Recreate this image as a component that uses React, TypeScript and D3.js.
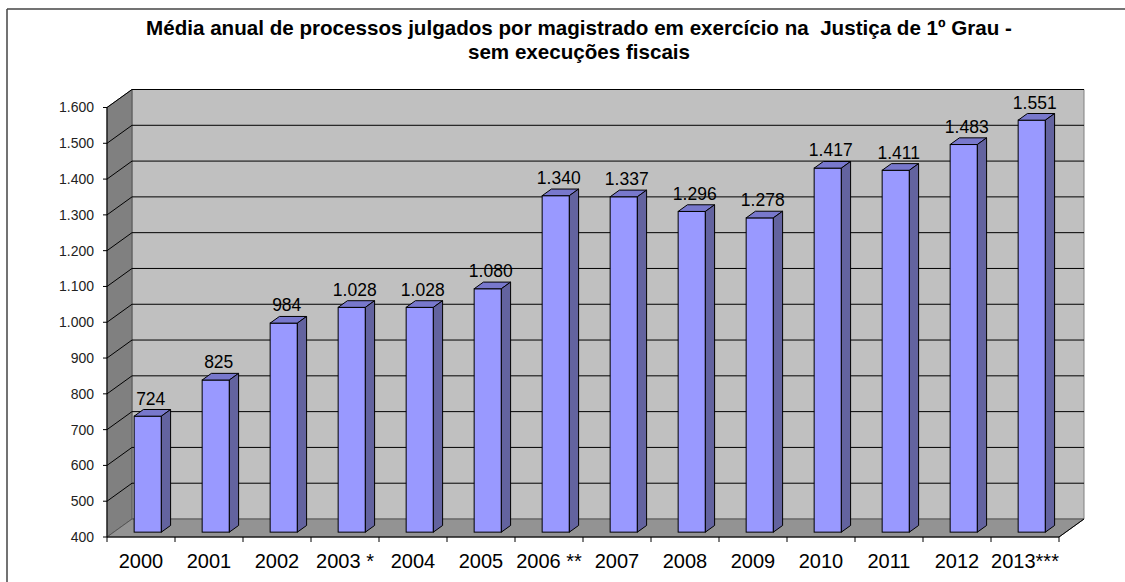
import React from 'react';
import * as d3 from 'd3';

const titleLines = [
  'Média anual de processos julgados por magistrado em exercício na  Justiça de 1º Grau -',
  'sem execuções fiscais',
];
const categories = ['2000', '2001', '2002', '2003 *', '2004', '2005', '2006 **', '2007', '2008', '2009', '2010', '2011', '2012', '2013***'];
const values = [724, 825, 984, 1028, 1028, 1080, 1340, 1337, 1296, 1278, 1417, 1411, 1483, 1551];
const yTicks = [400, 500, 600, 700, 800, 900, 1000, 1100, 1200, 1300, 1400, 1500, 1600];

const W = 1125;
const H = 582;
const FONT = "'Liberation Sans', Arial, sans-serif";

// 3D depth of the plot box and where the bars sit inside it
const depthX = 25;
const depthY = -18;
const barFront = 0.27;
const barBack = 0.64;

const ptBr = d3.formatLocale({ decimal: ',', thousands: '.', grouping: [3], currency: ['R$', ''] });
const fmt = ptBr.format(',d');

export default function App() {
  const x = d3.scaleBand<string>().domain(categories).range([107, 1059]).padding(0);
  const y = d3.scaleLinear().domain([400, 1600]).range([537, 107.5]);

  const x0 = x.range()[0];
  const x1 = x.range()[1];
  const yFloor = y(400);
  const yTop = y(1600);

  const pts = (p: number[][]) => p.map(d => d.join(',')).join(' ');

  // front face offset and side depth of each bar
  const fx = barFront * depthX;
  const fy = barFront * depthY;
  const sx = (barBack - barFront) * depthX;
  const sy = (barBack - barFront) * depthY;
  const bw = x.bandwidth() * 0.4;

  return (
    <svg width={W} height={H} style={{ position: 'absolute', left: 0, top: 0, background: '#fff' }}>
      {/* chart frame */}
      <line x1={7} y1={9} x2={W} y2={9} stroke="#444" strokeWidth={1.5} />
      <line x1={7} y1={9} x2={7} y2={H} stroke="#444" strokeWidth={1.5} />

      {titleLines.map((t, i) => (
        <text key={i} x={579} y={35 + i * 23.5} textAnchor="middle" fontFamily={FONT} fontWeight="bold"
          fontSize={20.6} fill="#000" style={{ whiteSpace: 'pre' }}>
          {t}
        </text>
      ))}

      {/* back wall */}
      <polygon points={pts([[x0 + depthX, yTop + depthY], [x1 + depthX, yTop + depthY], [x1 + depthX, yFloor + depthY], [x0 + depthX, yFloor + depthY]])}
        fill="#c0c0c0" stroke="#808080" strokeWidth={1} />
      {/* left wall */}
      <polygon points={pts([[x0, yTop], [x0 + depthX, yTop + depthY], [x0 + depthX, yFloor + depthY], [x0, yFloor]])}
        fill="#808080" stroke="#555" strokeWidth={1} />
      {/* floor */}
      <polygon points={pts([[x0, yFloor], [x0 + depthX, yFloor + depthY], [x1 + depthX, yFloor + depthY], [x1, yFloor]])}
        fill="#939393" stroke="#555" strokeWidth={1} />

      {/* gridlines */}
      {yTicks.filter(t => t > 400).map(t => (
        <g key={t}>
          <line x1={x0} y1={y(t)} x2={x0 + depthX} y2={y(t) + depthY} stroke="#000" strokeWidth={1} />
          <line x1={x0 + depthX} y1={y(t) + depthY} x2={x1 + depthX} y2={y(t) + depthY} stroke="#000" strokeWidth={1} />
        </g>
      ))}

      {/* axes */}
      <line x1={x0} y1={yTop} x2={x0} y2={yFloor} stroke="#000" strokeWidth={1} />
      <line x1={x0} y1={yFloor} x2={x1} y2={yFloor} stroke="#000" strokeWidth={1} />
      <line x1={x1} y1={yFloor} x2={x1 + depthX} y2={yFloor + depthY} stroke="#000" strokeWidth={1} />
      {yTicks.map(t => (
        <g key={t}>
          <line x1={x0 - 4} y1={y(t)} x2={x0} y2={y(t)} stroke="#000" strokeWidth={1} />
          <text x={94} y={y(t)} dy="0.35em" textAnchor="end" fontFamily={FONT} fontSize={14} fill="#222">
            {fmt(t)}
          </text>
        </g>
      ))}
      {d3.range(categories.length + 1).map(i => (
        <line key={i} x1={x0 + i * x.step()} y1={yFloor} x2={x0 + i * x.step()} y2={yFloor + 5} stroke="#000" strokeWidth={1} />
      ))}
      {categories.map(c => (
        <text key={c} x={(x(c) as number) + x.bandwidth() / 2} y={568} textAnchor="middle" fontFamily={FONT} fontSize={20} fill="#000">
          {c}
        </text>
      ))}

      {/* bars */}
      {categories.map((c, i) => {
        const left = (x(c) as number) + (x.bandwidth() - bw) / 2 + fx;
        const right = left + bw;
        const top = y(values[i]) + fy;
        const bot = yFloor + fy;
        return (
          <g key={c}>
            <rect x={left} y={top} width={bw} height={bot - top} fill="#9999ff" stroke="#000" strokeWidth={1} />
            <polygon points={pts([[left, top], [left + sx, top + sy], [right + sx, top + sy], [right, top]])}
              fill="#7878cc" stroke="#000" strokeWidth={1} />
            <polygon points={pts([[right, top], [right + sx, top + sy], [right + sx, bot + sy], [right, bot]])}
              fill="#63639f" stroke="#000" strokeWidth={1} />
            <text x={left + bw / 2 + 3} y={top + sy - 5} textAnchor="middle" fontFamily={FONT} fontSize={17.5} fill="#000">
              {fmt(values[i])}
            </text>
          </g>
        );
      })}
    </svg>
  );
}
